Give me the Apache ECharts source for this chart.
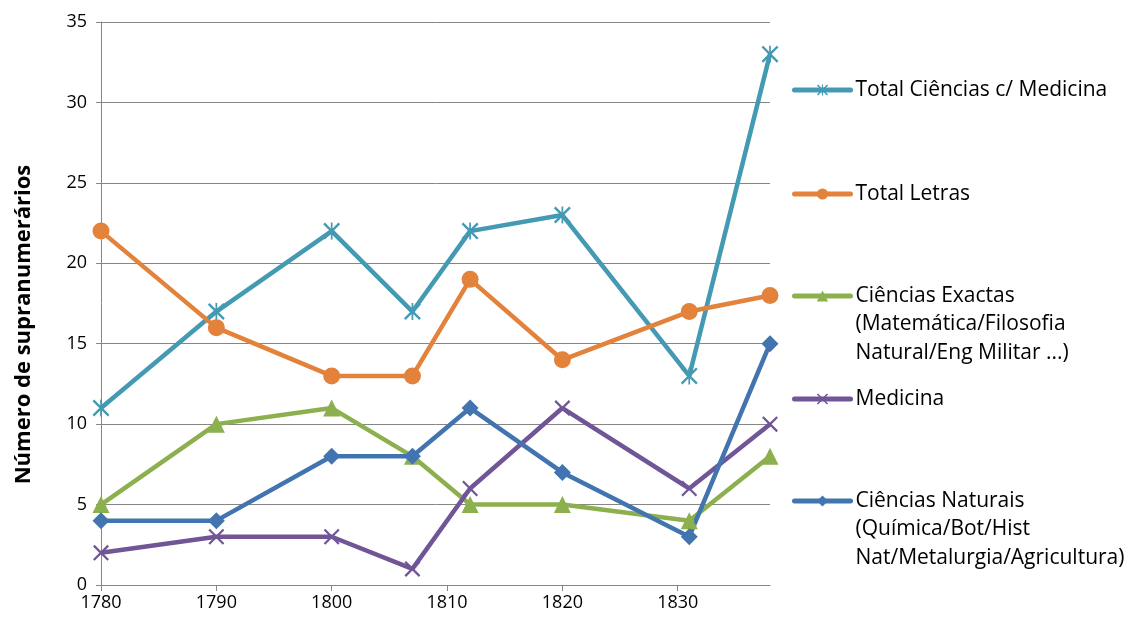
<!DOCTYPE html>
<html><head><meta charset="utf-8">
<script src="https://cdn.jsdelivr.net/npm/echarts@6/dist/echarts.min.js"></script>
<style>html,body{margin:0;padding:0;background:#fff}#c{width:1129px;height:625px}</style>
</head><body><div id="c"></div>
<script>
const years = [1780, 1790, 1800, 1807, 1812, 1820, 1831, 1838];
const xTicks = [1780, 1790, 1800, 1810, 1820, 1830];
const totalCiencias = [11, 17, 22, 17, 22, 23, 13, 33];
const totalLetras = [22, 16, 13, 13, 19, 14, 17, 18];
const cienciasExactas = [5, 10, 11, 8, 5, 5, 4, 8];
const medicina = [2, 3, 3, 1, 6, 11, 6, 10];
const cienciasNaturais = [4, 4, 8, 8, 11, 7, 3, 15];
const seriesNames = [
  'Total Ciências c/ Medicina',
  'Total Letras',
  'Ciências Exactas (Matemática/Filosofia Natural/Eng Militar ...)',
  'Medicina',
  'Ciências Naturais (Química/Bot/Hist Nat/Metalurgia/Agricultura)'
];
const legendLines = [
  ['Total Ciências c/ Medicina'],
  ['Total Letras'],
  ['Ciências Exactas', '(Matemática/Filosofia', 'Natural/Eng Militar ...)'],
  ['Medicina'],
  ['Ciências Naturais', '(Química/Bot/Hist', 'Nat/Metalurgia/Agricultura)']
];
const yAxisTitle = 'Número de supranumerários';

const colors = ['#4499B3', '#E3823B', '#8DB04E', '#705597', '#4274B0'];
const X_PATH = 'path://M0,1 L1,0 L10,9 L9,10 Z M9,0 L10,1 L1,10 L0,9 Z';
const AST_PATH = 'path://M0,1 L1,0 L10,9 L9,10 Z M9,0 L10,1 L1,10 L0,9 Z M4.5,0 L5.5,0 L5.5,10 L4.5,10 Z';
const symbols = [AST_PATH, 'circle', 'triangle', X_PATH, 'diamond'];
const symbolSizes = [17, 17, 17, 16, 17];
const dataArrays = [totalCiencias, totalLetras, cienciasExactas, medicina, cienciasNaturais];
const legendCenters = [90, 194, 296, 399, 501];

const FONT = 'Open Sans';
const LH = 28.5;

const series = seriesNames.map((n, i) => ({
  name: n,
  type: 'line',
  data: years.map((y, k) => [y, dataArrays[i][k]]),
  symbol: symbols[i],
  symbolSize: symbolSizes[i],
  showAllSymbol: true,
  lineStyle: { color: colors[i], width: 4.5 },
  itemStyle: { color: colors[i] },
  emphasis: { disabled: true },
  animation: false
}));

const legends = seriesNames.map((n, i) => {
  const lines = legendLines[i].slice();
  while (lines.length < 3) lines.push('');
  const full = ['', ''].concat(lines);
  return {
    data: [n],
    left: 792,
    top: legendCenters[i] - 2.5 * LH,
    padding: 0,
    itemWidth: 56,
    itemHeight: 14,
    selectedMode: false,
    lineStyle: { width: 5, cap: 'round' },
    formatter: () => full.join('\n'),
    textStyle: { fontFamily: FONT, fontSize: 21, color: '#000', lineHeight: LH }
  };
});

const chart = echarts.init(document.getElementById('c'));
chart.setOption({
  backgroundColor: '#fff',
  animation: false,
  grid: { left: 101, right: 359, top: 22, bottom: 40 },
  legend: legends,
  xAxis: {
    type: 'value', min: 1780, max: 1838, interval: 10,
    axisLine: { show: true, lineStyle: { color: '#868686', width: 1 } },
    axisTick: { show: true, inside: false, length: 6, lineStyle: { color: '#868686' }, customValues: xTicks },
    axisLabel: { color: '#000', fontFamily: FONT, fontSize: 18, margin: 9, customValues: xTicks, formatter: v => String(v) },
    splitLine: { show: false }
  },
  yAxis: {
    type: 'value', min: 0, max: 35, interval: 5,
    name: yAxisTitle, nameLocation: 'middle', nameRotate: 90, nameGap: 66,
    nameTextStyle: { fontFamily: FONT, fontSize: 22, fontWeight: 'bold', color: '#000', padding: [0, 42, 0, 0] },
    axisLine: { show: true, lineStyle: { color: '#868686', width: 1 } },
    axisTick: { show: true, inside: false, length: 5, lineStyle: { color: '#868686' } },
    axisLabel: { color: '#000', fontFamily: FONT, fontSize: 18, margin: 14 },
    splitLine: { show: true, lineStyle: { color: '#868686', width: 1 } }
  },
  series: series
});
</script></body></html>
